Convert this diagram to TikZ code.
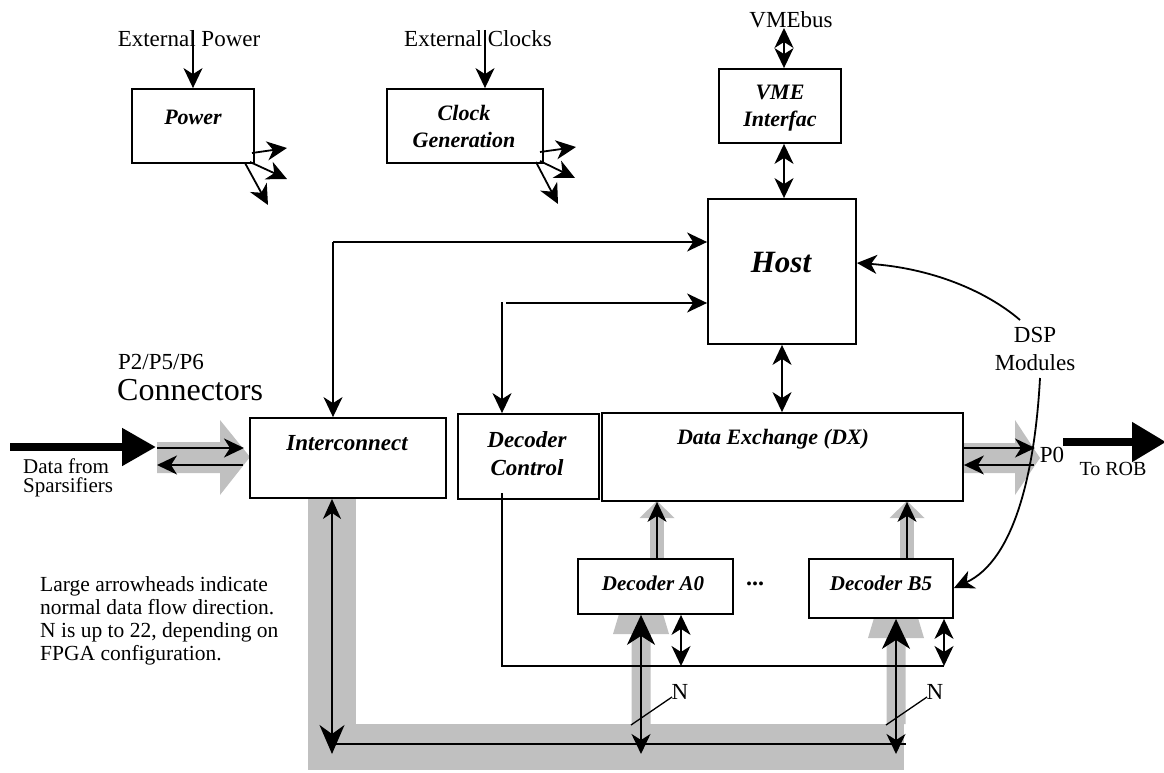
\documentclass[tikz,border=0pt]{standalone}
\usepackage{fontspec}
\setmainfont{Liberation Serif}
\usetikzlibrary{arrows.meta,calc}
\definecolor{busgray}{RGB}{192,192,192}
\begin{document}
\begin{tikzpicture}[x=1pt,y=-1pt,
  box/.style={draw, line width=1.8pt, fill=white, inner sep=0pt},
  bl/.style={font=\fontsize{22}{27}\selectfont\bfseries\itshape, inner sep=0pt, align=center},
  txt/.style={font=\fontsize{23}{27}\selectfont, inner sep=0pt, align=center},
  ln/.style={line width=1.8pt},
  arr/.style={ln, -{Stealth[length=20pt,width=19pt,inset=6pt]}},
  barr/.style={ln, {Stealth[length=20pt,width=19pt,inset=6pt]}-{Stealth[length=20pt,width=19pt,inset=6pt]}},
  bigbarr/.style={ln, {Stealth[length=30pt,width=28pt,inset=9pt]}-{Stealth[length=20pt,width=19pt,inset=6pt]}},
  fat/.style={line width=8pt, -{Triangle[length=34pt,width=36pt]}},
  gr/.style={fill=busgray}
]
\useasboundingbox (0,0) rectangle (1164,773);

% ---------- gray bus / flow shapes ----------
\fill[gr] (308,499) rectangle (356,770);
\fill[gr] (308,724) rectangle (904,770);
\fill[gr] (157,442) -- (220,442) -- (220,420) -- (250,457) -- (220,495) -- (220,473) -- (157,473) -- cycle;
\fill[gr] (963,443) -- (1015,443) -- (1015,420) -- (1040,458) -- (1015,495) -- (1015,473) -- (963,473) -- cycle;
\foreach \c in {657,907}{
  \fill[gr] (\c-7,559) rectangle (\c+7,517);
  \fill[gr] (\c-17.5,518) -- (\c,501) -- (\c+17.5,518) -- cycle;
}
\fill[gr] (619,614) -- (663,614) -- (669,634) -- (650.5,634) -- (650.5,724) -- (631.5,724) -- (631.5,634) -- (613,634) -- cycle;
\fill[gr] (874,618) -- (918,618) -- (924,638) -- (905.5,638) -- (905.5,724) -- (886.5,724) -- (886.5,638) -- (868,638) -- cycle;

% ---------- boxes ----------
\node[box, minimum width=122pt, minimum height=74pt] (power) at (193,126) {};
\node[box, minimum width=156pt, minimum height=74pt] (clock) at (465,126) {};
\node[box, minimum width=122pt, minimum height=74pt] (vme) at (780,106) {};
\node[box, minimum width=148pt, minimum height=145pt] (host) at (782,271.5) {};
\node[box, minimum width=196pt, minimum height=80pt] (inter) at (348,458) {};
\node[box, minimum width=141pt, minimum height=85pt] (dc) at (528.5,456.5) {};
\node[box, minimum width=361pt, minimum height=88pt] (dx) at (782.5,457) {};
\node[box, minimum width=155pt, minimum height=55pt] (deca) at (655.5,586.5) {};
\node[box, minimum width=144pt, minimum height=59pt] (decb) at (881,588.5) {};

% ---------- box labels ----------
\node[bl] (powerlab) at (193,117) {Power};
\node[bl] (clocklab) at (464,126) {Clock\\Generation};
\node[bl] (vmelab) at (780,108) {VME\\Interfac};
\node[bl, font=\fontsize{31}{36}\selectfont\bfseries\itshape] (hostlab) at (781,263) {Host};
\node[bl, font=\fontsize{23}{27}\selectfont\bfseries\itshape] (interlab) at (347,443) {Interconnect};
\node[bl, font=\fontsize{23}{28}\selectfont\bfseries\itshape] (dclab) at (527,454) {Decoder\\Control};
\node[bl] (dxlab) at (773,439) {Data Exchange (DX)};
\node[bl, font=\fontsize{21}{25}\selectfont\bfseries\itshape] (decalab) at (653,583) {Decoder A0};
\node[bl, font=\fontsize{21}{25}\selectfont\bfseries\itshape] (decblab) at (881,583) {Decoder B5};
\node[txt, font=\fontsize{24}{26}\selectfont\bfseries] (dots) at (755,584) {...};

% ---------- free text ----------
\node[txt] (extpow) at (189,39) {External Power};
\node[txt] (extclk) at (478,39) {External Clocks};
\node[txt] (vmebus) at (791,20) {VMEbus};
\node[txt, anchor=west] (p256) at (118,362) {P2/P5/P6};
\node[txt, anchor=west, font=\fontsize{32}{36}\selectfont] (conn) at (117,390) {Connectors};
\node[txt, anchor=west, align=left, font=\fontsize{21}{19}\selectfont] (datafrom) at (23,478) {Data from\\Sparsifiers};
\node[txt, anchor=north west, align=left, font=\fontsize{21.5}{23}\selectfont] (note) at (40,576)
  {Large arrowheads indicate\\normal data flow direction.\\N is up to 22, depending on\\FPGA configuration.};
\node[txt, font=\fontsize{23}{28}\selectfont] (dsp) at (1035,349) {DSP\\Modules};
\node[txt] (p0) at (1052,455) {P0};
\node[txt, font=\fontsize{20}{24}\selectfont] (torob) at (1113,469) {To ROB};
\node[txt] (na) at (680,692) {N};
\node[txt] (nb) at (935,692) {N};

% ---------- connectors ----------
% power / clock inputs
\draw[arr] (193,30) -- (power.north -| 193,0);
\draw[arr] (485,30) -- (clock.north -| 485,0);
% power outputs
\draw[arr] (252,153) -- (287,148);
\draw[arr] (250,162) -- (287,179);
\draw[arr] (245,163) -- (268,205);
% clock outputs
\draw[arr] (540,152) -- (576,147);
\draw[arr] (540,161) -- (575,178);
\draw[arr] (536,162) -- (558,204);
% VME
\coordinate (vx) at (784,28);
\draw[barr] (vx) -- (vx |- vme.north);
\draw[barr] (vx |- vme.south) -- (vx |- host.north);
% Host <-> DX
\coordinate (hx) at (782,0);
\draw[barr] (hx |- host.south) -- (hx |- dx.north);
% Host -> Interconnect
\coordinate (ic) at (333,242);
\draw[arr] (ic) -- (ic -| host.west);
\draw[arr] (ic) -- (ic |- inter.north);
% Host -> Decoder Control
\coordinate (dca) at (506,303);
\coordinate (dcb) at (502,302);
\draw[arr] (dca) -- (dca -| host.west);
\draw[arr] (dcb) -- (dcb |- dc.north);
% Decoder control line
\coordinate (dcl) at (502,493);
\coordinate (ctlA) at (681,666);
\coordinate (ctlB) at (944,666);
\draw[ln] (dcl) |- (ctlB);
\draw[barr] (ctlA |- deca.south) -- (ctlA);
\draw[barr] (ctlB |- decb.south) -- (ctlB);
% Decoders -> DX
\coordinate (ua) at (657,0);
\coordinate (ub) at (907,0);
\draw[arr] (ua |- deca.north) -- (ua |- dx.south);
\draw[arr] (ub |- decb.north) -- (ub |- dx.south);
% bus
\coordinate (busL) at (332,744);
\coordinate (busR) at (906,744);
\draw[ln] (busL) -- (busR);
\draw[ln, {Stealth[length=20pt,width=18pt,inset=6pt]}-{Stealth[length=29pt,width=25pt,inset=9pt]}] (busL |- inter.south) -- (332,754);
\coordinate (ba) at (641,754);
\coordinate (bb) at (896,754);
\draw[bigbarr] (ba |- deca.south) -- (ba);
\draw[bigbarr] (bb |- decb.south) -- (bb);
\draw[line width=1.3pt] (631,725) -- (672,697);
\draw[line width=1.3pt] (886,725) -- (927,697);
% connectors left
\draw[arr] (157,448) -- (244,448);
\draw[arr] (243,465) -- (157,465);
\draw[fat] (10,447) -- (156,447);
% connectors right
\draw[arr] (dx.east |- 0,448) -- (1035,448);
\draw[arr] (1034,465) -- (dx.east |- 0,465);
\draw[fat, -{Triangle[length=34pt,width=38pt]}] (1063,442) -- (1166,442);
% DSP modules pointers
\draw[arr] (1020,320) .. controls (985,290) and (930,268) .. (host.east |- 0,263);
\draw[arr] (1040,378) .. controls (1035,470) and (1015,560) .. (decb.east |- 0,588);
\end{tikzpicture}
\end{document}
